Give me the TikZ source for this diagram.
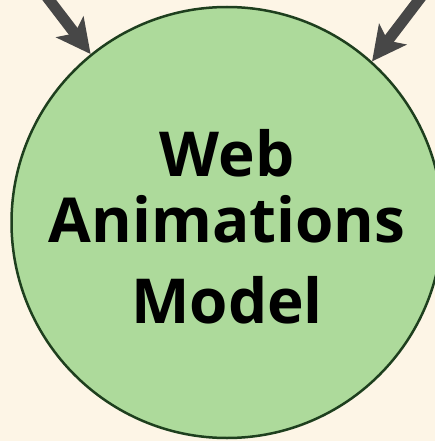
\documentclass[tikz,border=0pt]{standalone}
\usepackage{fontspec}
\setmainfont{Open Sans}
\usepackage{xcolor}
\usepackage{tikz}
\usetikzlibrary{arrows.meta}
\definecolor{paper}{HTML}{FDF5E6}
\definecolor{modelgreen}{HTML}{ADDA9B}
\definecolor{rimgreen}{HTML}{1E3F1E}
\definecolor{feedgray}{HTML}{474747}
\def\canvas{(0,0) rectangle (435,441)}

\begin{document}
\begin{tikzpicture}[x=1pt,y=-1pt,
    model/.style={circle,draw=rimgreen,line width=2.5pt,fill=modelgreen,minimum size=431pt,inner sep=0pt},
    title/.style={inner sep=0pt,align=center,font=\bfseries\fontsize{62}{66}\selectfont},
    feed/.style={draw=feedgray,line width=11pt,-{Stealth[length=34pt,width=34pt,inset=8pt]}}]
    \useasboundingbox \canvas;
    \clip \canvas;
    \fill[paper] \canvas;
    \node[model] (model) at (227,222.5) {};
    \node[title,yshift=-4pt] (title) at (model.center) {Web\\Animations\\[15pt]Model};
    \coordinate (left) at (37,-16);
    \coordinate (right) at (431,-16);
    \draw[feed] (left) -- (model.129);
    \draw[feed] (right) -- (model.48.5);
\end{tikzpicture}
\end{document}
